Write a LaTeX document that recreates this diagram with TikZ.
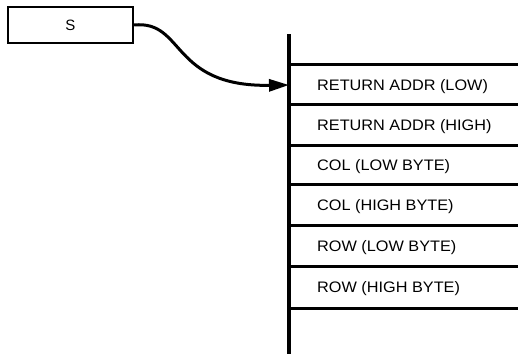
\documentclass[tikz,border=0pt]{standalone}
\usepackage{fontspec}
\setmainfont{Liberation Sans}
\usetikzlibrary{arrows.meta}
\newcommand{\celltxt}[1]{\scalebox{1.07}[1]{#1}}
\begin{document}
\begin{tikzpicture}[x=1pt,y=-1pt,
  reg/.style={draw,line width=2.4pt,minimum width=125pt,minimum height=36pt,inner sep=0pt,font=\fontsize{15}{17}\selectfont},
  cell/.style={anchor=west,inner sep=0pt,font=\fontsize{15.2}{17}\selectfont},
  stackline/.style={line width=3.4pt},
  sep/.style={line width=3pt},
  ptr/.style={line width=3pt,-{Triangle[length=20pt,width=12pt]}}]
\useasboundingbox (0,0) rectangle (518,357);
\node[reg] (S) at (70.5,25) {S};
\coordinate (top) at (289,34);
\coordinate (bot) at (289,354);
\draw[stackline] (top) -- (bot);
\foreach \y/\n in {64/a,104/b,145/c,184/d,225/e,266/f,308/g}{
  \coordinate (l\n) at (289,\y);
  \coordinate (r\n) at (518,\y);
  \draw[sep] (l\n) -- (r\n);
}
\node[cell] (c1) at (317,87) {\celltxt{RETURN ADDR (LOW)}};
\node[cell] (c2) at (317,127) {\celltxt{RETURN ADDR (HIGH)}};
\node[cell] (c3) at (317,167) {\celltxt{COL (LOW BYTE)}};
\node[cell] (c4) at (317,207) {\celltxt{COL (HIGH BYTE)}};
\node[cell] (c5) at (317,248) {\celltxt{ROW (LOW BYTE)}};
\node[cell] (c6) at (317,289) {\celltxt{ROW (HIGH BYTE)}};
\coordinate (tgt) at (289,85);
\draw[ptr] (S.east) .. controls (185,20) and (170,87) .. (tgt);
\end{tikzpicture}
\end{document}
